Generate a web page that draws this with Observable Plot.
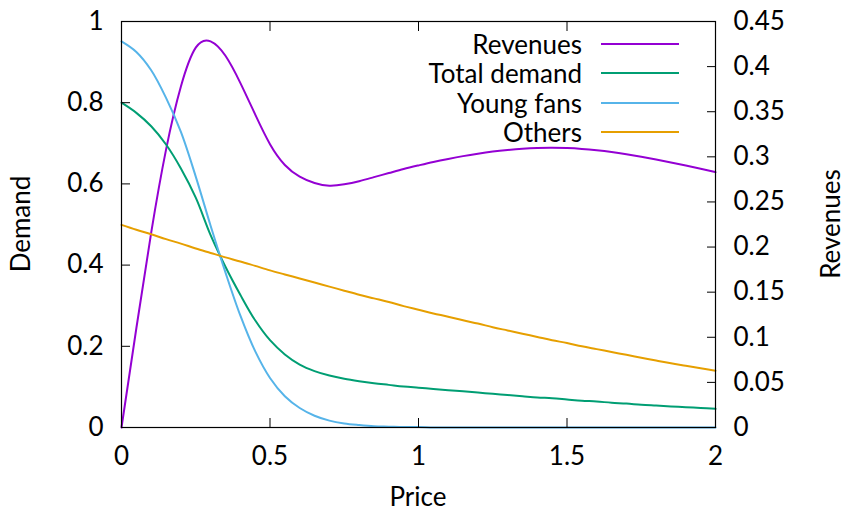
<!DOCTYPE html>
<html>
<head>
<meta charset="utf-8">
<script src="https://cdn.jsdelivr.net/npm/d3@7"></script>
<script src="https://cdn.jsdelivr.net/npm/@observablehq/plot@0.6"></script>
<style>
  html, body { margin: 0; padding: 0; background: #fff; }
  #wrap { position: relative; width: 846px; height: 511px; font-family: Lato, "DejaVu Sans", sans-serif; color: #000; }
  .title { position: absolute; font-size: 26px; line-height: 1; white-space: nowrap; }
  .title.vert { writing-mode: vertical-rl; }
  .legend { position: absolute; left: 0; top: 0; width: 846px; height: 511px; font-size: 26px; line-height: 1; pointer-events: none; }
  .legend .row { position: absolute; white-space: nowrap; text-align: right; }
</style>
</head>
<body>
<div id="wrap"></div>
<script>
// ---- data ----
const price = [0, 0.05, 0.10, 0.15, 0.20, 0.25, 0.30, 0.35, 0.40, 0.45, 0.50, 0.55, 0.60, 0.65, 0.70, 0.75, 0.80, 0.85, 0.90, 0.95,
               1.00, 1.05, 1.10, 1.15, 1.20, 1.25, 1.30, 1.35, 1.40, 1.45, 1.50, 1.55, 1.60, 1.65, 1.70, 1.75, 1.80, 1.85, 1.90, 1.95, 2.00];
const revenues = [0, 0.110, 0.216, 0.308, 0.378, 0.421, 0.428, 0.412, 0.382, 0.347, 0.314, 0.291, 0.278, 0.271, 0.268, 0.2695, 0.273, 0.2775, 0.282, 0.2865,
                  0.2905, 0.2943, 0.2977, 0.3008, 0.3035, 0.3058, 0.3076, 0.309, 0.3098, 0.310, 0.3097, 0.3088, 0.3073, 0.3053, 0.3028, 0.300, 0.297, 0.2938, 0.2904, 0.2868, 0.283];
const totalDemand = [0.800, 0.775, 0.742, 0.697, 0.638, 0.566, 0.474, 0.396, 0.327, 0.264, 0.215, 0.180, 0.155, 0.139, 0.128, 0.120, 0.114, 0.109, 0.105, 0.101,
                     0.098, 0.095, 0.092, 0.089, 0.086, 0.083, 0.080, 0.077, 0.074, 0.072, 0.069, 0.066, 0.064, 0.061, 0.059, 0.056, 0.054, 0.052, 0.050, 0.048, 0.046];
const youngFans = [0.951, 0.925, 0.880, 0.812, 0.728, 0.618, 0.497, 0.382, 0.276, 0.188, 0.122, 0.077, 0.048, 0.029, 0.017, 0.010, 0.006, 0.003, 0.002, 0.001,
                   0.001, 0, 0, 0, 0, 0, 0, 0, 0, 0, 0, 0, 0, 0, 0, 0, 0, 0, 0, 0, 0];
const others = [0.499, 0.487, 0.476, 0.464, 0.453, 0.441, 0.430, 0.419, 0.409, 0.398, 0.387, 0.377, 0.367, 0.357, 0.347, 0.337, 0.327, 0.318, 0.309, 0.299,
                0.290, 0.281, 0.273, 0.264, 0.256, 0.247, 0.239, 0.231, 0.223, 0.215, 0.208, 0.200, 0.193, 0.186, 0.179, 0.172, 0.165, 0.158, 0.152, 0.146, 0.140];

const seriesNames = ["Revenues", "Total demand", "Young fans", "Others"];
const seriesColors = ["#9400d3", "#009e73", "#56b4e9", "#e69f00"];
const seriesValues = [revenues, totalDemand, youngFans, others];
const onRevenueAxis = [true, false, false, false];

const xTicks = [0, 0.5, 1, 1.5, 2];
const demandTicks = [0, 0.2, 0.4, 0.6, 0.8, 1];
const revenueTicks = [0, 0.05, 0.1, 0.15, 0.2, 0.25, 0.3, 0.35, 0.4, 0.45];
const REV_MAX = 0.45;  // right axis top maps to demand 1

const seriesRows = seriesNames.map((name, s) => price.map((p, i) => ({
  series: name, price: p,
  y: onRevenueAxis[s] ? seriesValues[s][i] / REV_MAX : seriesValues[s][i]
})));

const W = 846, H = 511;
const mL = 121, mR = 131, mT = 21, mB = 84;
const fmt = d => String(+(+d).toFixed(2));

const chart = Plot.plot({
  width: W, height: H,
  marginLeft: mL, marginRight: mR, marginTop: mT, marginBottom: mB,
  style: { fontFamily: "Lato, 'DejaVu Sans', sans-serif", fontSize: "26px", background: "#fff", color: "#000" },
  x: { domain: [0, 2] },
  y: { domain: [0, 1] },
  color: { domain: seriesNames, range: seriesColors },
  marks: [
    ...seriesRows.map((data, s) => Plot.line(data, {
      x: "price", y: "y", stroke: "series", strokeWidth: 2,
      curve: onRevenueAxis[s] ? "natural" : "catmull-rom"
    })),
    Plot.frame({ stroke: "#000", strokeWidth: 1.2 }),
    Plot.axisX(xTicks, { anchor: "bottom", tickSize: -9, tickPadding: 28, tickFormat: fmt, label: null }),
    Plot.axisX(xTicks, { anchor: "top", tickSize: -9, tickFormat: () => "", label: null }),
    Plot.axisY(demandTicks, { anchor: "left", tickSize: -9, tickPadding: 27, tickFormat: fmt, label: null }),
    Plot.axisY(revenueTicks.map(r => r / REV_MAX), { anchor: "right", tickSize: -9, tickPadding: 27, label: null,
      tickFormat: d => fmt(d * REV_MAX) })
  ]
});

const wrap = document.getElementById("wrap");
wrap.appendChild(chart);

// axis titles
function addTitle(text, cx, cy, vertical) {
  const el = document.createElement("div");
  el.className = "title" + (vertical ? " vert" : "");
  el.textContent = text;
  el.style.left = cx + "px";
  el.style.top = cy + "px";
  el.style.transform = `translate(-50%, -50%)` + (vertical ? " rotate(180deg)" : "");
  wrap.appendChild(el);
}
const plotMidY = (mT + (H - mB)) / 2;
addTitle("Price", (mL + (W - mR)) / 2, 496, false);
addTitle("Demand", 20, plotMidY, true);
addTitle("Revenues", 830, plotMidY, true);

// legend (inside the plot, top right)
const legend = document.createElement("div");
legend.className = "legend";
wrap.appendChild(legend);
seriesNames.forEach((name, i) => {
  const cy = 44 + i * 29.3;
  const row = document.createElement("div");
  row.className = "row";
  row.style.top = (cy - 13) + "px";
  row.style.right = (W - 582) + "px";
  row.style.height = "26px";
  row.style.lineHeight = "26px";
  row.textContent = name;
  legend.appendChild(row);
  const ln = document.createElement("div");
  ln.style.position = "absolute";
  ln.style.left = "601px";
  ln.style.width = "78px";
  ln.style.top = (cy - 1) + "px";
  ln.style.height = "2px";
  ln.style.background = seriesColors[i];
  legend.appendChild(ln);
});
</script>
</body>
</html>
